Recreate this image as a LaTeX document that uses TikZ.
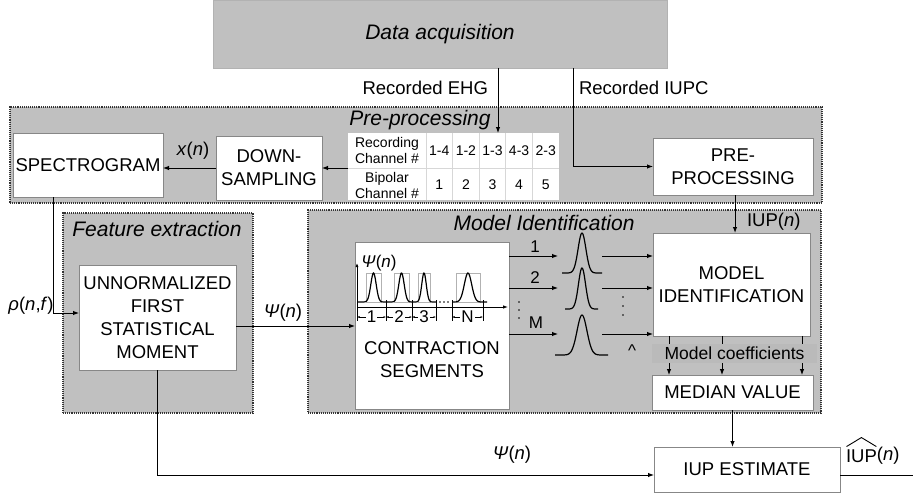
\documentclass[tikz,border=0pt]{standalone}
\usepackage{fontspec}
\setmainfont{Liberation Sans}
\usetikzlibrary{arrows.meta,calc}
\definecolor{bggray}{RGB}{192,192,192}
\definecolor{bandgray}{RGB}{186,186,186}
\definecolor{boxline}{RGB}{135,135,135}
\definecolor{cellline}{RGB}{215,215,215}
\begin{document}
\begin{tikzpicture}[x=1pt,y=-1pt,
  every node/.style={inner sep=0pt,outer sep=0pt},
  box/.style={draw=boxline,line width=0.9pt,fill=white,align=center,font=\fontsize{18.5}{23}\selectfont},
  group/.style={draw=black!80,densely dotted,line width=1.1pt,fill=bggray},
  grouptitle/.style={font=\fontsize{21}{25}\selectfont\itshape},
  lbl/.style={font=\fontsize{18.5}{22}\selectfont},
  smlbl/.style={font=\fontsize{17}{20}\selectfont},
  tbltxt/.style={font=\fontsize{14}{16}\selectfont,align=center},
  arr/.style={-{Latex[length=6pt,width=4.5pt]},line width=1pt},
  ln/.style={line width=1pt},
  tinyarr/.style={{Latex[length=2.5pt,width=2pt]}-{Latex[length=2.5pt,width=2pt]},line width=0.5pt},
  curve/.style={line width=1.2pt},
]
\useasboundingbox (0,0) rectangle (913,495);

% ---------- groups ----------
\node[fill=bggray,draw=black!30,line width=0.6pt,minimum width=454,minimum height=68,font=\fontsize{21}{25}\selectfont\itshape] (daq) at (440,34) {Data acquisition};
\node[group,minimum width=812,minimum height=96] (pregrp) at (416,155) {};
\node[grouptitle] (pretitle) at (420,120) {Pre-processing};
\node[group,minimum width=190,minimum height=200] (fegrp) at (158,313) {};
\node[grouptitle] (fetitle) at (157,229) {Feature extraction};
\node[group,minimum width=513,minimum height=203] (migrp) at (564.5,311.5) {};
\node[grouptitle] (mititle) at (544,223) {Model Identification};

% ---------- boxes ----------
\node[box,minimum width=150,minimum height=64] (spec) at (88,165) {SPECTROGRAM};
\node[box,minimum width=106,minimum height=64] (ds) at (269,168) {DOWN-\\SAMPLING};
\node[box,minimum width=160,minimum height=57] (pre) at (733,166.5) {PRE-\\PROCESSING};
\node[box,minimum width=157,minimum height=105] (unnorm) at (157.5,317.5) {UNNORMALIZED\\FIRST\\STATISTICAL\\MOMENT};
\node[box,minimum width=154,minimum height=167] (contr) at (432,325.5) {};
\node[font=\fontsize{18.5}{23}\selectfont,align=center] (contrtxt) at (432,360) {CONTRACTION\\SEGMENTS};
\node[box,minimum width=157,minimum height=103] (model) at (731.5,284.5) {MODEL\\IDENTIFICATION};
\node[box,minimum width=161,minimum height=35] (median) at (732.5,392.5) {MEDIAN VALUE};
\node[box,minimum width=186,minimum height=45] (iupe) at (747,469.5) {IUP ESTIMATE};

% ---------- table ----------
\node[fill=white,minimum width=211,minimum height=67] (tbl) at (453.5,166.5) {};
\draw[cellline,line width=0.8pt] (348,168) -- (559,168);
\foreach \cx in {426,452.6,479.2,505.8,532.4}{\draw[cellline,line width=0.8pt] (\cx,133) -- (\cx,200);}
\node[tbltxt] (rc) at (387,150) {Recording\\Channel \#};
\node[tbltxt] (bc) at (387,185) {Bipolar\\Channel \#};
\foreach \t/\b [count=\i] in {1-4/1,1-2/2,1-3/3,4-3/4,2-3/5}{
  \node[tbltxt] (top\i) at ({426+26.6*(\i-0.5)},151) {\t};
  \node[tbltxt] (bot\i) at ({426+26.6*(\i-0.5)},185) {\b};
}

% ---------- top connectors ----------
\coordinate (ehg) at (498,133);
\draw[arr] (daq.south -| ehg) -- (ehg);
\node[lbl,anchor=east] (ehglbl) at (488,88) {Recorded EHG};
\coordinate (iupc) at (573,120);
\draw[arr] (daq.south -| iupc) |- (pre.west);
\node[lbl,anchor=west] (iupclbl) at (579,88) {Recorded IUPC};
\draw[arr] (tbl.west |- ds.east) -- (ds.east);
\draw[arr] (ds.west) -- (ds.west -| spec.east);
\node[lbl] (xn) at (193,151) {\textit{x}(\textit{n})};

% spectrogram -> unnormalized
\coordinate (rhoc) at (53,313);
\draw[arr] (spec.south -| rhoc) |- (rhoc -| unnorm.west);
\node[lbl] (rho) at (31,306) {\textit{ρ}(\textit{n},\textit{f})};

% unnormalized -> contraction
\coordinate (psil) at (236,326);
\draw[arr] (psil) -- (psil -| contr.west);
\node[lbl] (psi1) at (283,313) {\textit{Ψ}(\textit{n})};

% pre -> model
\coordinate (iupx) at (735,215);
\draw[arr] (pre.south -| iupx) -- (model.north -| iupx);
\node[lbl,anchor=west] (iupn) at (747,222) {IUP(\textit{n})};

% ---------- signal plot inside contraction box ----------
\draw[-{Latex[length=4pt,width=3pt]},line width=0.8pt] (357,309) -- (357,263);
\draw[-{Latex[length=5pt,width=3.5pt]},line width=0.8pt] (357,307) -- (508,307);
\node[smlbl] (psiplot) at (379,263) {\textit{Ψ}(\textit{n})};
\foreach \a/\b in {366/381,394/409,418/430,456/480}{\draw[black!30,line width=0.6pt] (\a,273) rectangle (\b,302);}
\draw[curve] plot[domain=357:387,samples=50] (\x,{302-29*exp(-((\x-373.5)/3.8)^2)});
\draw[curve] plot[domain=387:413,samples=50] (\x,{302-29*exp(-((\x-401.5)/3.8)^2)});
\draw[curve] plot[domain=413:436,samples=50] (\x,{302-29*exp(-((\x-424)/3.2)^2)});
\draw[curve] plot[domain=452:487,samples=50] (\x,{302-29*exp(-((\x-468)/5.2)^2)});
\foreach \dx in {440,444,448}{\fill (\dx,302) circle (0.8);}
\foreach \tx in {386,412,436,452,483}{\draw[line width=0.6pt] (\tx,300) -- (\tx,321);}
\draw[line width=0.6pt] (357,307) -- (357,321);
\foreach \a/\b/\t in {357/386/1,386/412/2,412/436/3,452/483/N}{
  \draw[tinyarr] (\a,317) -- (\b,317);
  \node[smlbl,fill=white,inner xsep=1pt] at ({(\a+\b)/2},317) {\t};
}

% ---------- branches to gaussians ----------
\foreach \y/\t [count=\i] in {256/1,288/2,334/M}{
  \coordinate (gin\i) at (558,\y);
  \coordinate (gout\i) at (602,\y);
  \draw[arr] (contr.east |- gin\i) -- (gin\i);
  \draw[arr] (gout\i) -- (gout\i -| model.west);
}
\node[smlbl] (l1) at (535,247) {1};
\node[smlbl] (l2) at (535,278) {2};
\node[smlbl] (lM) at (536,323) {M};
\foreach \dy in {302,310,318}{\fill (519,\dy) circle (0.9);}
\foreach \dy in {297,306,315}{\fill (623,\dy) circle (0.9);}
\node[smlbl] (caret) at (632,351) {\textasciicircum};
\draw[curve] plot[domain=562:602,samples=60] (\x,{273-40*exp(-((\x-582)/5.5)^2)});
\draw[curve] plot[domain=565:598,samples=60] (\x,{309-41*exp(-((\x-582)/5.0)^2)});
\draw[curve] plot[domain=555:608,samples=60] (\x,{355-40*exp(-((\x-582)/7.0)^2)});

% ---------- model coefficients ----------
\foreach \mx in {669,722,802}{
  \coordinate (mc\mx) at (\mx,340);
  \draw[arr,line width=0.9pt] (model.south -| mc\mx) -- (median.north -| mc\mx);
}
\node[fill=bandgray,minimum width=165,minimum height=19,font=\fontsize{17.5}{20}\selectfont] (mcoef) at (734.5,353) {Model coefficients};

% ---------- bottom ----------
\draw[arr] (median.south) -- (median.south |- iupe.north);
\coordinate (botline) at (400,475);
\draw[arr] (unnorm.south) |- (botline -| iupe.west);
\node[lbl] (psi2) at (512,455) {\textit{Ψ}(\textit{n})};
\coordinate (outend) at (913,475);
\draw[ln] (outend -| iupe.east) -- (outend);
\node[lbl,anchor=west] (hatI) at (846,456) {IUP};
\node[lbl,anchor=west] (hatn) at (hatI.east) {(\textit{n})};
\draw[line width=0.9pt] ($(hatI.north west)+(0.5,-3)$) -- ($(hatI.north)+(0,-12)$) -- ($(hatI.north east)+(-0.5,-3)$);
\end{tikzpicture}
\end{document}
